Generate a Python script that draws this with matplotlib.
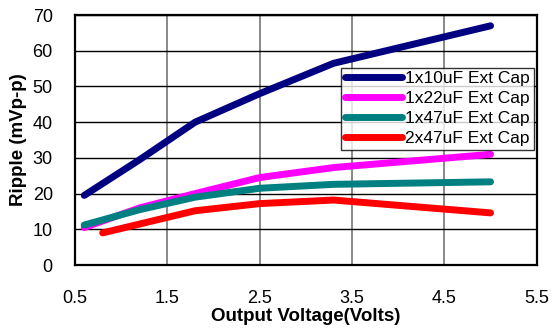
import matplotlib
matplotlib.use("Agg")
import matplotlib.pyplot as plt

# output voltage (V) and ripple (mVp-p) per capacitor option
v_out = [0.6, 1.2, 1.8, 2.5, 3.3, 5.0]
v_out_2x47 = [0.8, 1.8, 2.5, 3.3, 5.0]
ripple_1x10 = [19.5, 29.5, 40.0, 48.0, 56.5, 67.0]
ripple_1x22 = [10.5, 16.0, 20.0, 24.5, 27.3, 31.0]
ripple_1x47 = [11.2, 15.5, 19.0, 21.5, 22.6, 23.3]
ripple_2x47 = [9.0, 15.2, 17.2, 18.2, 14.6]

labels = ["1x10uF Ext Cap", "1x22uF Ext Cap", "1x47uF Ext Cap", "2x47uF Ext Cap"]
colors = ["#000080", "#ff00ff", "#008080", "#ff0000"]

plt.rcParams['font.family'] = ['Liberation Sans', 'DejaVu Sans']

fig = plt.figure(figsize=(5.53, 3.28), dpi=100)
ax = fig.add_axes([0.1356, 0.192, 0.835, 0.762])

series = [(v_out, ripple_1x10), (v_out, ripple_1x22), (v_out, ripple_1x47), (v_out_2x47, ripple_2x47)]
for (x, y), lab, c in zip(series, labels, colors):
    ax.plot(x, y, color=c, lw=5, solid_capstyle='round', solid_joinstyle='round', label=lab, zorder=3)

ax.set_xlim(0.5, 5.5)
ax.set_ylim(0, 70)
ax.set_xticks([0.5, 1.5, 2.5, 3.5, 4.5, 5.5])
ax.set_xticklabels(["0.5", "1.5", "2.5", "3.5", "4.5", "5.5"])
ax.set_yticks(range(0, 71, 10))
ax.tick_params(axis='both', length=0, labelsize=13)
ax.tick_params(axis='x', pad=18)
ax.tick_params(axis='y', pad=16)

ax.xaxis.grid(True, color='#808080', lw=1.3)
ax.yaxis.grid(True, color='black', lw=1.0)
ax.set_axisbelow(True)
for s in ax.spines.values():
    s.set_linewidth(1.6)
    s.set_color('black')

ax.set_xlabel("Output Voltage(Volts)", fontsize=13.5, fontweight='bold', labelpad=1)
ax.set_ylabel("Ripple (mVp-p)", fontsize=13.5, fontweight='bold', labelpad=4)

leg = ax.legend(loc='upper right', bbox_to_anchor=(0.993, 0.79), fontsize=12.5,
                frameon=True, fancybox=False, borderpad=0.2, labelspacing=0.28,
                handlelength=3.3, handletextpad=0.2, borderaxespad=0)
leg.get_frame().set_edgecolor('black')
leg.get_frame().set_linewidth(1.0)

fig.savefig("out.png", dpi=100)
